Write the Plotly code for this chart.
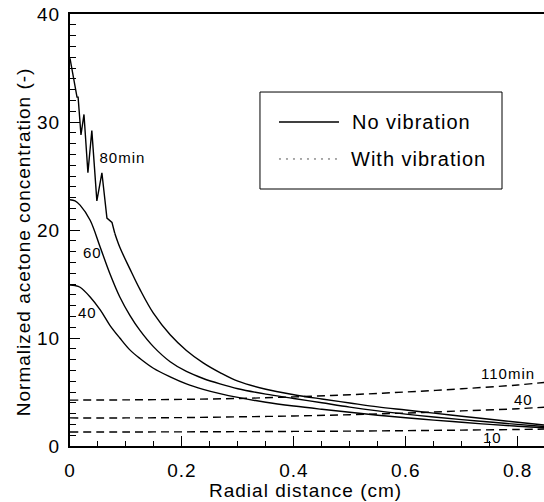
import plotly.graph_objects as go

# ---- data ----
# 80 min, no vibration: jagged head (straight segments) and smooth tail
x80_head = [0, 0.0125, 0.0145, 0.0196, 0.025, 0.032, 0.039, 0.048, 0.057, 0.066,
            0.075, 0.080]
y80_head = [35.9, 32.3, 32.3, 28.8, 30.7, 25.3, 29.2, 22.7, 25.3, 21.1,
            20.7, 19.7]
x80_tail = [0.080, 0.089, 0.107, 0.125, 0.149, 0.179, 0.208, 0.238, 0.268,
            0.3, 0.35, 0.4, 0.45, 0.5, 0.55, 0.6, 0.65, 0.7, 0.75, 0.8, 0.85]
y80_tail = [19.7, 18.4, 16.4, 14.5, 12.3, 10.3, 8.85, 7.7, 6.8,
            6.0, 5.25, 4.75, 4.35, 3.98, 3.62, 3.33, 3.04, 2.76, 2.48, 2.2, 1.93]

x_smooth = [0, 0.009, 0.018, 0.036, 0.054, 0.071, 0.089, 0.107, 0.125, 0.149,
            0.179, 0.208, 0.238, 0.268, 0.3, 0.35, 0.4, 0.45, 0.5, 0.55,
            0.6, 0.65, 0.7, 0.75, 0.8, 0.85]
y60 = [22.8, 22.7, 22.3, 20.9, 18.4, 16.0, 13.8, 12.1, 10.7, 9.2,
       7.8, 6.9, 6.25, 5.75, 5.3, 4.8, 4.4, 4.0, 3.6, 3.25,
       2.95, 2.68, 2.44, 2.22, 2.0, 1.8]
y40 = [14.9, 14.85, 14.7, 13.8, 12.6, 11.2, 10.0, 8.9, 8.1, 7.2,
       6.4, 5.75, 5.25, 4.85, 4.5, 4.05, 3.7, 3.4, 3.12, 2.85,
       2.62, 2.4, 2.2, 2.0, 1.83, 1.68]

x_vib = [0, 0.1, 0.2, 0.3, 0.4, 0.5, 0.6, 0.7, 0.8, 0.85]
y_vib110 = [4.25, 4.27, 4.32, 4.4, 4.55, 4.75, 5.0, 5.3, 5.65, 5.9]
y_vib40 = [2.6, 2.6, 2.63, 2.7, 2.78, 2.9, 3.05, 3.25, 3.45, 3.6]
y_vib10 = [1.3, 1.3, 1.31, 1.33, 1.35, 1.38, 1.42, 1.47, 1.53, 1.57]

curve_labels = ["80min", "60", "40", "110min", "40", "10"]
label_x = [0.054, 0.021, 0.0125, 0.736, 0.791, 0.736]
label_y = [26.7, 17.9, 12.4, 6.7, 4.35, 0.83]

legend_names = ["No vibration", "With vibration"]

x_ticks = [0, 0.2, 0.4, 0.6, 0.8]
x_ticktext = ["0", "0.2", "0.4", "0.6", "0.8"]
y_ticks = [0, 10, 20, 30, 40]

FONT = "Liberation Sans, Arial, Helvetica, sans-serif"

fig = go.Figure()
solid = dict(color="black", width=1.4)
dashed = dict(color="black", width=1.4, dash="8px,5px")

fig.add_trace(go.Scatter(x=x80_head, y=y80_head, mode="lines", line=solid, name="80min", showlegend=False))
fig.add_trace(go.Scatter(x=x80_tail, y=y80_tail, mode="lines", line=dict(solid, shape="spline"), name="80min", showlegend=False))
fig.add_trace(go.Scatter(x=x_smooth, y=y60, mode="lines", line=dict(solid, shape="spline"), name="60min", showlegend=False))
fig.add_trace(go.Scatter(x=x_smooth, y=y40, mode="lines", line=dict(solid, shape="spline"), name="40min", showlegend=False))
for yv, nm in [(y_vib110, "110min vib"), (y_vib40, "40min vib"), (y_vib10, "10min vib")]:
    fig.add_trace(go.Scatter(x=x_vib, y=yv, mode="lines", line=dict(dashed, shape="spline"), name=nm, showlegend=False))

for t, lx, ly in zip(curve_labels, label_x, label_y):
    fig.add_annotation(x=lx, y=ly, xref="x", yref="y", text=t, showarrow=False,
                       xanchor="left", yanchor="middle", font=dict(size=15, color="black", family=FONT))

# legend box drawn as layout decoration
fig.add_shape(type="rect", xref="paper", yref="paper", x0=0.4008, x1=0.9114, y0=0.5949, y1=0.8194,
              line=dict(color="black", width=1), fillcolor="white", layer="above")
fig.add_shape(type="line", xref="paper", yref="paper", x0=0.4409, x1=0.5675, y0=0.75, y1=0.75,
              line=dict(color="black", width=1.4))
fig.add_shape(type="line", xref="paper", yref="paper", x0=0.4409, x1=0.5675, y0=0.6644, y1=0.6644,
              line=dict(color="#555555", width=1, dash="2px,5px"))
for nm, yy in zip(legend_names, [0.75, 0.6644]):
    fig.add_annotation(x=0.603, y=yy, xref="paper", yref="paper", text=nm, showarrow=False,
                       xanchor="left", yanchor="middle", font=dict(size=20, color="black", family=FONT))

# axis titles
fig.add_annotation(x=0.496, y=-0.102, xref="paper", yref="paper", text="Radial distance (cm)",
                   showarrow=False, xanchor="center", yanchor="middle",
                   font=dict(size=19, color="black", family=FONT))
fig.add_annotation(x=-0.099, y=0.472, xref="paper", yref="paper", text="Normalized acetone concentration (-)",
                   showarrow=False, textangle=-90, xanchor="center", yanchor="middle",
                   font=dict(size=19, color="black", family=FONT))

fig.update_layout(
    width=544, height=502,
    margin=dict(l=70, r=0, t=14, b=56),
    paper_bgcolor="white", plot_bgcolor="white",
    showlegend=False,
    font=dict(family=FONT, color="black", size=19),
    xaxis=dict(range=[0, 0.847], tickvals=x_ticks, ticktext=x_ticktext,
               ticks="inside", ticklen=10, tickwidth=1.3, tickcolor="black",
               minor=dict(dtick=0.05, ticks="inside", ticklen=5, tickwidth=1.3, tickcolor="black"),
               showline=True, linecolor="black", linewidth=2, mirror=True,
               showgrid=False, zeroline=False, ticklabelstandoff=6,
               tickfont=dict(size=19, family=FONT, color="black")),
    yaxis=dict(range=[0, 40], tickvals=y_ticks,
               ticks="inside", ticklen=10, tickwidth=1.3, tickcolor="black",
               minor=dict(dtick=1, ticks="inside", ticklen=6, tickwidth=1.3, tickcolor="black"),
               showline=True, linecolor="black", linewidth=2, mirror=False,
               showgrid=False, zeroline=False, ticklabelstandoff=4,
               tickfont=dict(size=19, family=FONT, color="black")),
)

post = """
document.body.style.margin='0';
document.body.style.overflow='hidden';
document.querySelectorAll('.main-svg text').forEach(function(t){ t.style.letterSpacing='1px'; });
"""
fig.write_html("out.html", post_script=post, config={"displayModeBar": False})
